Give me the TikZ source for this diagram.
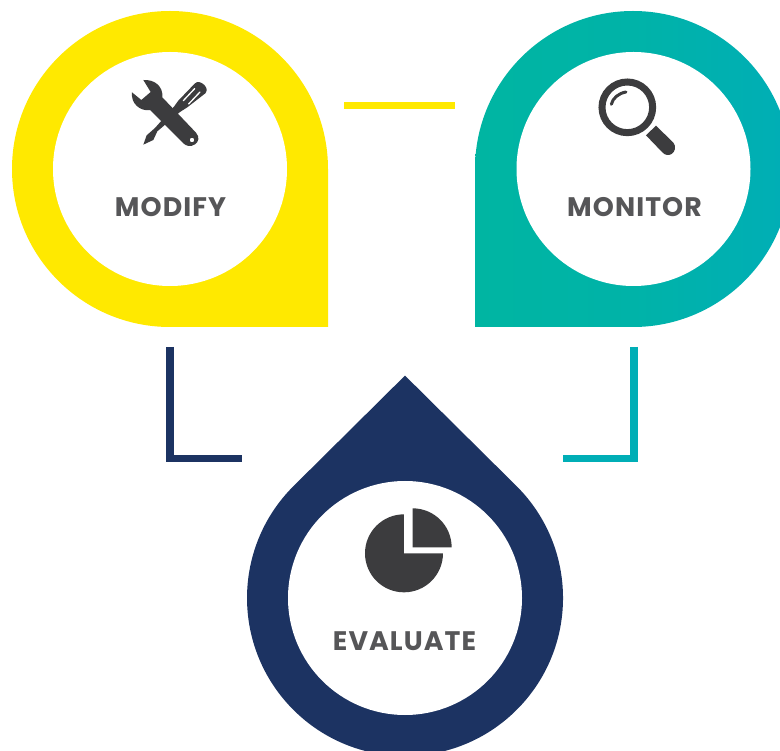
\documentclass[tikz,border=0pt]{standalone}
\usepackage{fontspec}
\setmainfont{Poppins}[BoldFont={Poppins Bold}]
\definecolor{yel}{HTML}{FFE900}
\definecolor{navy}{HTML}{1C3362}
\definecolor{tealA}{HTML}{00B5A2}
\definecolor{tealB}{HTML}{00AEB6}
\definecolor{ink}{HTML}{3C3C3E}
\definecolor{labelgray}{HTML}{565658}
\tikzset{
  hole/.style={circle,fill=white,inner sep=0pt,minimum size=234pt},
  lab/.style={text=labelgray,inner sep=0pt,font=\fontsize{26.8}{27}\selectfont\bfseries\addfontfeature{LetterSpace=4}},
  link/.style={line width=7.3pt,line cap=butt,line join=miter}
}
\begin{document}
\begin{tikzpicture}[x=1pt,y=-1pt]
\useasboundingbox (0,0) rectangle (780,751);
\clip (0,0) rectangle (780,751);
\fill[white] (0,0) rectangle (780,751);
% drops
\fill[yel] (328,327) -- (328,169) arc[start angle=0,end angle=-270,radius=158] -- cycle;
\begin{scope}
\clip (475,327) -- (475,169) arc[start angle=180,end angle=450,radius=158] -- cycle;
\shade[left color=tealA,right color=tealB,middle color=tealA!70!tealB] (475,11) rectangle (791,327);
\end{scope}
\fill[navy] (405,375.6) -- (293.3,486.3) arc[start angle=225,end angle=-45,radius=158] -- cycle;
\node[hole] (modifyhole) at (170,169) {};
\node[hole] (monitorhole) at (633.5,169) {};
\node[hole] (evaluatehole) at (405,598) {};
% labels
\node[lab] (modify) at (170.5,207) {MODIFY};
\node[lab] (monitor) at (634.5,207) {MONITOR};
\node[lab] (evaluate) at (404.5,641) {EVALUATE};
% connectors
\coordinate (ya) at (344,105.5); \coordinate (yb) at (455,105.5);
\draw[link,draw=yel] (ya) -- (yb);
\coordinate (na) at (170,347); \coordinate (nc) at (170,458.5); \coordinate (nb) at (242,458.5);
\draw[link,draw=navy] (na) -- (nc) -- (nb);
\coordinate (ta) at (634,347); \coordinate (tc) at (634,458.5); \coordinate (tb) at (562.5,458.5);
\draw[link,draw=tealB] (ta) -- (tc) -- (tb);
% wrench and screwdriver
\begin{scope}[shift={(100,60)},x=0.3333pt,y=-0.3333pt]
\fill[ink] (222,140) -- (235,122) -- (285,70) .. controls (292,63) and (304,66) .. (313,75) .. controls (322,85) and (322,92) .. (316,100) -- (262,142) -- (240,156) -- (172,214) -- (160,240) -- (130,254) -- (140,226) -- (165,204) -- cycle;
\draw[white,line width=1.3pt,line cap=round] (250,122) -- (284,86);
\draw[white,line width=1.3pt,line cap=round] (266,132) -- (300,96);
\fill[ink,even odd rule] (130,60) .. controls (165,58) and (190,80) .. (187,112) -- (288,218) .. controls (300,232) and (296,245) .. (285,253) .. controls (272,262) and (258,258) .. (250,250) -- (150,150) .. controls (120,155) and (92,130) .. (96,97) -- (124,120) -- (152,96) -- cycle
(276,240) circle[radius=7];
\end{scope}
% magnifier
\begin{scope}[shift={(550,60)},x=0.3333pt,y=-0.3333pt]
\draw[ink,line width=7pt] (232,142) circle[radius=76];
\draw[ink,line width=3pt,line cap=round] (184,133) .. controls (188,115) and (205,100) .. (228,96);
\fill[ink] (288,226) -- (318,197) -- (370,248) .. controls (380,260) and (375,275) .. (365,282) .. controls (355,288) and (345,285) .. (338,278) -- cycle;
\end{scope}
% pie
\begin{scope}[shift={(320,490)},x=0.3333pt,y=-0.3333pt]
\fill[ink] (252,190) -- (252,73) arc[start angle=-90,end angle=-360,radius=117] -- cycle;
\fill[ink] (278,172) -- (278,55) arc[start angle=-90,end angle=0,radius=117] -- cycle;
\end{scope}
\end{tikzpicture}
\end{document}
